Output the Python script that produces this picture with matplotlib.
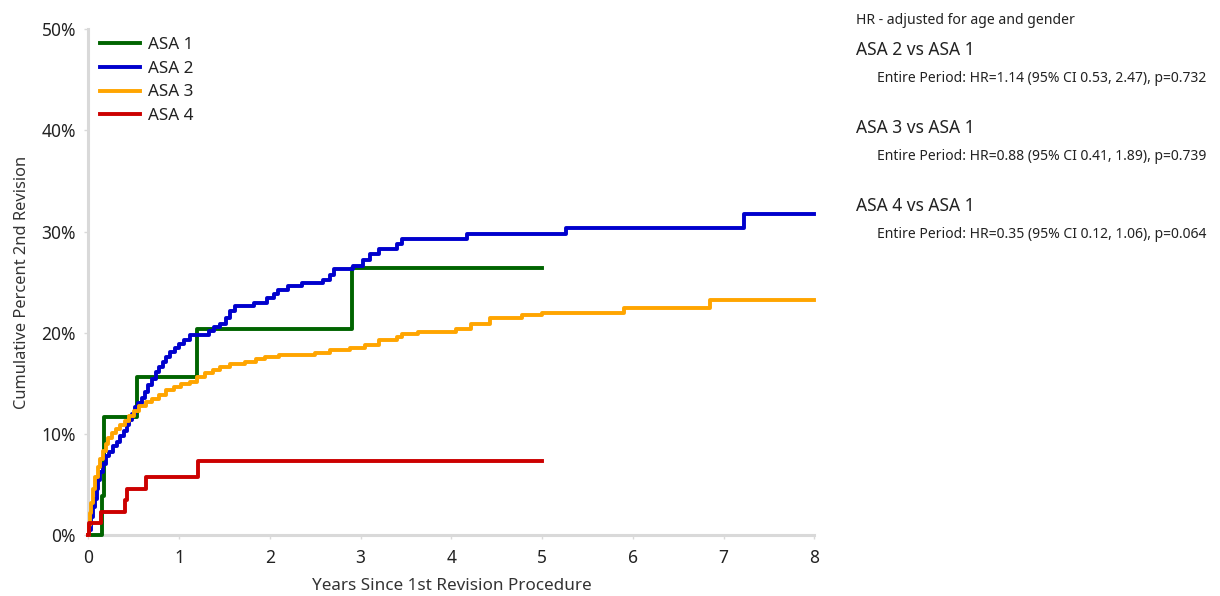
import matplotlib
matplotlib.use("Agg")
import matplotlib.pyplot as plt
from matplotlib.ticker import FuncFormatter

plt.rcParams['font.family'] = ['Noto Sans', 'DejaVu Sans']

# ---- data (years, cumulative percent 2nd revision) ----
asa1_t = [0, 0.15, 0.17, 0.54, 1.20, 2.91, 5.0]
asa1_v = [0, 3.9, 11.7, 15.6, 20.4, 26.4, 26.4]

asa2_t = [0, 0.01, 0.03, 0.05, 0.07, 0.09, 0.11, 0.13, 0.16, 0.19, 0.23, 0.27,
          0.31, 0.35, 0.39, 0.42, 0.45, 0.48, 0.51, 0.55, 0.59, 0.62, 0.66,
          0.70, 0.74, 0.78, 0.82, 0.86, 0.90, 0.95, 1.00, 1.05, 1.12, 1.33,
          1.38, 1.45, 1.52, 1.56, 1.62, 1.83, 1.97, 2.04, 2.09, 2.20, 2.35,
          2.58, 2.66, 2.71, 2.92, 3.03, 3.10, 3.20, 3.40, 3.46, 4.17, 5.26,
          7.23, 8.0]
asa2_v = [0, 0.5, 1.8, 2.8, 3.6, 4.6, 5.5, 6.2, 7.0, 7.8, 8.2, 8.8,
          9.2, 9.8, 10.3, 10.9, 11.4, 12.0, 12.7, 13.1, 13.6, 14.2, 14.8,
          15.4, 16.1, 16.6, 17.1, 17.6, 18.1, 18.5, 18.9, 19.3, 19.8, 20.2,
          20.6, 20.9, 21.5, 22.2, 22.6, 22.9, 23.4, 23.8, 24.2, 24.6, 24.9,
          25.2, 25.7, 26.3, 26.6, 27.2, 27.8, 28.3, 28.8, 29.3, 29.8, 30.4,
          31.7, 31.7]

asa3_t = [0, 0.01, 0.02, 0.03, 0.05, 0.07, 0.10, 0.13, 0.16, 0.19, 0.22, 0.26,
          0.30, 0.35, 0.40, 0.45, 0.50, 0.56, 0.63, 0.70, 0.78, 0.86, 0.94,
          1.02, 1.12, 1.20, 1.28, 1.37, 1.45, 1.56, 1.72, 1.85, 1.95, 2.10,
          2.50, 2.66, 2.88, 3.05, 3.20, 3.40, 3.46, 3.63, 4.05, 4.22, 4.42,
          4.78, 5.00, 5.90, 6.85, 8.0]
asa3_v = [0, 1.0, 2.2, 3.2, 4.6, 5.8, 6.7, 7.5, 8.3, 9.0, 9.6, 10.1,
          10.5, 10.9, 11.3, 11.8, 12.3, 12.8, 13.2, 13.5, 13.9, 14.3, 14.6,
          14.9, 15.1, 15.6, 16.0, 16.3, 16.6, 16.9, 17.1, 17.4, 17.6, 17.8,
          18.0, 18.3, 18.5, 18.8, 19.3, 19.6, 19.9, 20.1, 20.4, 20.9, 21.5,
          21.8, 22.0, 22.5, 23.2, 23.2]

asa4_t = [0, 0.01, 0.14, 0.40, 0.42, 0.63, 1.21, 5.0]
asa4_v = [0, 1.2, 2.3, 3.5, 4.6, 5.8, 7.3, 7.3]

series = [
    ('ASA 1', asa1_t, asa1_v, '#006400'),
    ('ASA 2', asa2_t, asa2_v, '#0000CD'),
    ('ASA 3', asa3_t, asa3_v, '#FFA500'),
    ('ASA 4', asa4_t, asa4_v, '#CC0000'),
]

x_ticks = [0, 1, 2, 3, 4, 5, 6, 7, 8]
y_ticks = [0, 10, 20, 30, 40, 50]

hr_title = 'HR - adjusted for age and gender'
hr_groups = ['ASA 2 vs ASA 1', 'ASA 3 vs ASA 1', 'ASA 4 vs ASA 1']
hr_lines = ['Entire Period: HR=1.14 (95% CI 0.53, 2.47), p=0.732',
            'Entire Period: HR=0.88 (95% CI 0.41, 1.89), p=0.739',
            'Entire Period: HR=0.35 (95% CI 0.12, 1.06), p=0.064']

# ---- figure ----
fig = plt.figure(figsize=(12.2, 5.96), dpi=100)
ax = fig.add_axes([0.0725, 0.102, 0.595, 0.849])

for name, t, v, col in series:
    ax.step(t, v, where='post', color=col, lw=2.8, label=name, clip_on=False,
            zorder=3)

ax.set_xlim(0, 8)
ax.set_ylim(0, 50)
ax.set_xticks(x_ticks)
ax.set_yticks(y_ticks)
ax.yaxis.set_major_formatter(FuncFormatter(lambda v, p: f'{v:.0f}%'))

for s in ['top', 'right']:
    ax.spines[s].set_visible(False)
for s in ['left', 'bottom']:
    ax.spines[s].set_color('#d9d9d9')
    ax.spines[s].set_linewidth(2.2)
ax.tick_params(axis='both', colors='#d9d9d9', length=3, width=1,
               labelcolor='#222222', labelsize=12.5)
ax.tick_params(axis='x', pad=7)
ax.tick_params(axis='y', pad=6)

ax.set_xlabel('Years Since 1st Revision Procedure', fontsize=12.3,
              color='#333333', labelpad=8)
ax.set_ylabel('Cumulative Percent 2nd Revision', fontsize=11.8,
              color='#333333', labelpad=8)

leg = ax.legend(loc='upper left', bbox_to_anchor=(0.0, 1.008), frameon=False,
                fontsize=12.3, handlelength=2.3, handletextpad=0.5,
                labelspacing=0.45, borderaxespad=0.3)
for txt in leg.get_texts():
    txt.set_color('#222222')

# ---- hazard ratio text panel ----
fig.text(856 / 1220, 1 - 20 / 596, hr_title, fontsize=10.1, color='#222222',
         va='center', ha='left')
for i, (g, line) in enumerate(zip(hr_groups, hr_lines)):
    y_g = 50 + i * 78
    fig.text(856 / 1220, 1 - y_g / 596, g, fontsize=12.5, color='#222222',
             va='center', ha='left')
    fig.text(877 / 1220, 1 - (y_g + 29) / 596, line, fontsize=10.05,
             color='#222222', va='center', ha='left')

fig.savefig('out.png', dpi=100)
